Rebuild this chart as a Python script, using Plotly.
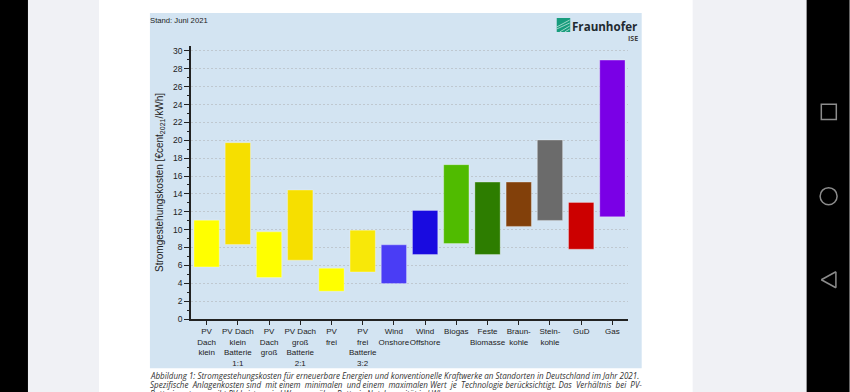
import plotly.graph_objects as go

categories = ["PV<br>Dach<br>klein", "PV Dach<br>klein<br>Batterie<br>1:1", "PV<br>Dach<br>groß",
              "PV Dach<br>groß<br>Batterie<br>2:1", "PV<br>frei", "PV<br>frei<br>Batterie<br>3:2",
              "Wind<br>Onshore", "Wind<br>Offshore", "Biogas", "Feste<br>Biomasse",
              "Braun-<br>kohle", "Stein-<br>kohle", "GuD", "Gas"]
low_values = [5.83, 8.34, 4.64, 6.58, 3.11, 5.27, 3.96, 7.22, 8.45, 7.22, 10.36, 11.03, 7.81, 11.44]
high_values = [11.06, 19.73, 9.75, 14.43, 5.68, 9.94, 8.30, 12.15, 17.27, 15.32, 15.32, 20.03, 13.05, 28.97]
bar_colors = ["#ffff00", "#f6df00", "#ffff00", "#f6df00", "#ffff00", "#f8e808", "#4a3df5", "#190be0",
              "#50bb00", "#2d7d00", "#82400a", "#6b6b6b", "#cc0000", "#7a00e6"]

W, H = 850, 392
L, R, T, B = 191.1, 628.3, 46.0, 318.7


def px(x):
    return (x - L) / (R - L)


def py(y):
    return (B - y) / (B - T)


def rect(x0, y0, x1, y1, color):
    return dict(type="rect", xref="paper", yref="paper", x0=px(x0), x1=px(x1), y0=py(y0), y1=py(y1),
                fillcolor=color, line=dict(width=0), layer="below")


def note(x, y, text, size, color="#222", xanchor="left", family="Liberation Sans", yanchor="middle"):
    return dict(xref="paper", yref="paper", x=px(x), y=py(y), text=text, showarrow=False, xanchor=xanchor,
                yanchor=yanchor, font=dict(size=size, color=color, family=family), borderpad=0, borderwidth=0)


shapes = [
    rect(0, 0, 28, H, "#000000"),
    rect(28, 0, 99, H, "#f0f1f5"),
    rect(99, 0, 693, H, "#ffffff"),
    rect(693, 0, 807, H, "#f0f1f5"),
    rect(807, 0, W, H, "#000000"),
    rect(150, 13, 642, 368, "#d3e4f2"),
    rect(557, 18, 570.5, 32, "#179c7d"),
]
# logo streaks
for (a, b, c, d) in [(557, 27, 570, 20), (557, 29, 570, 23), (560, 32, 570, 26), (565, 32, 570, 29)]:
    shapes.append(dict(type="line", xref="paper", yref="paper", x0=px(a), y0=py(b), x1=px(c), y1=py(d),
                       line=dict(color="#bfe3d9", width=0.8)))
# navigation icons
icon = dict(color="#8c8c8c", width=1.5)
shapes += [
    dict(type="rect", xref="paper", yref="paper", x0=px(821.7), x1=px(836.7), y0=py(104.3), y1=py(119.3), line=icon),
    dict(type="circle", xref="paper", yref="paper", x0=px(820.5), x1=px(837.5), y0=py(187.5), y1=py(204.5), line=icon),
    dict(type="line", xref="paper", yref="paper", x0=px(836.3), x1=px(821.7), y0=py(271.5), y1=py(279.5), line=icon),
    dict(type="line", xref="paper", yref="paper", x0=px(821.7), x1=px(836.3), y0=py(279.5), y1=py(287.5), line=icon),
    dict(type="line", xref="paper", yref="paper", x0=px(836.3), x1=px(836.3), y0=py(271.5), y1=py(287.5), line=icon),
]

cap = "Open Sans"
annotations = [
    note(150, 20.5, "Stand: Juni 2021", 7.7),
    note(638.5, 27, "<b>Fraunhofer</b>", 11.6, "#1f2a30", "right", "Open Sans"),
    note(638.5, 38.5, "<b>ISE</b>", 7, "#444", "right", "Open Sans"),
    note(150, 375.5, "<i>Abbildung 1: Stromgestehungskosten für erneuerbare Energien und konventionelle Kraftwerke an Standorten in Deutschland im Jahr 2021.</i>", 8.02, "#333", family=cap),
    note(150, 384.5, "<i>Spezifische  Anlagenkosten sind  mit einem  minimalen  und einem  maximalen Wert  je  Technologie berücksichtigt. Das  Verhältnis  bei  PV-</i>", 8.02, "#333", family=cap),
    note(150, 393.5, "<i>Batteriesystemen gibt PV-Leistung in kWp gegenüber Batterie-Nutzkapazität in kWh an.</i>", 8.02, "#333", family=cap),
]

fig = go.Figure(go.Bar(
    x=categories,
    y=[h - l for h, l in zip(high_values, low_values)],
    base=low_values,
    width=0.81,
    marker=dict(color=bar_colors, line=dict(color="rgba(255,255,255,0.3)", width=1)),
    hoverinfo="skip",
))
fig.update_layout(
    width=W, height=H, autosize=False,
    margin=dict(l=L, r=W - R, t=T, b=H - B, pad=0),
    paper_bgcolor="#ffffff", plot_bgcolor="rgba(0,0,0,0)",
    showlegend=False, shapes=shapes, annotations=annotations,
    font=dict(family="Liberation Sans", color="#222"),
)
fig.update_xaxes(
    type="category", range=[-0.5, 13.5], showgrid=False, zeroline=False,
    showline=True, linecolor="#222", linewidth=1.5,
    ticks="outside", ticklen=4, tickcolor="#222", tickwidth=1,
    tickangle=0, tickfont=dict(size=8, color="#222"),
)
fig.update_yaxes(
    range=[0, 30.55], tick0=0, dtick=2, zeroline=False,
    showline=True, linecolor="#222", linewidth=1.5,
    showgrid=True, gridcolor="#bfc8d0", griddash="2px,2px", gridwidth=1,
    ticks="outside", ticklen=5, tickcolor="#222", tickwidth=1,
    minor=dict(dtick=1, ticks="outside", ticklen=2.5, tickcolor="#222", tickwidth=1, showgrid=False),
    tickfont=dict(size=8.5, color="#222"),
    title=dict(text="Stromgestehungskosten [€cent<sub>2021</sub>/kWh]", font=dict(size=10, color="#222"), standoff=8),
)
fig.write_html("out.html", config=dict(displayModeBar=False),
               post_script="document.body.style.margin='0';document.body.style.overflow='hidden';")
